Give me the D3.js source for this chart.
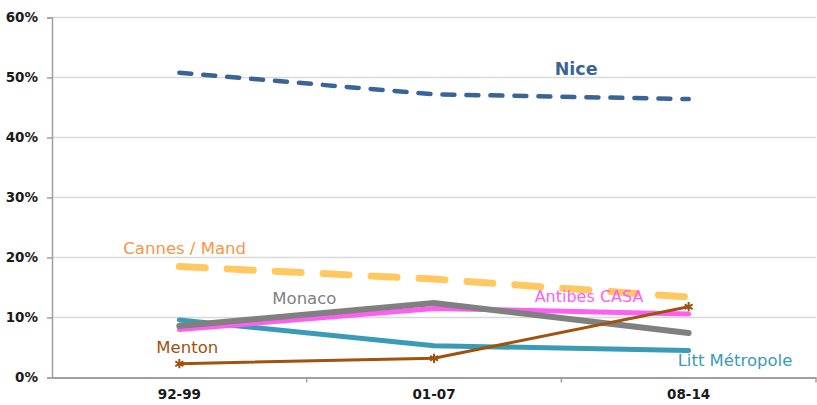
<!DOCTYPE html>
<meta charset="utf-8">
<style>
body { margin: 0; background: #fff; }
.tick text { font-family: "DejaVu Sans", Verdana, sans-serif; font-weight: bold; font-size: 13.5px; fill: #1a1a1a; }
.lbl { font-family: "DejaVu Sans", Verdana, sans-serif; font-size: 16px; }
</style>
<body>
<script src="https://d3js.org/d3.v7.min.js"></script>
<script>
// categories and values (share of total, %)
const periods = ["92-99", "01-07", "08-14"];
const yTicks = [0, 10, 20, 30, 40, 50, 60];

const nice     = [50.8, 47.2, 46.4];
const cannes   = [18.5, 16.4, 13.4];
const littMet  = [9.6, 5.3, 4.5];
const antibes  = [8.0, 11.5, 10.6];
const monaco   = [8.6, 12.4, 7.4];
const menton   = [2.3, 3.2, 11.8];

const width = 817, height = 405,
      margin = {top: 17.5, right: 1, bottom: 27.5, left: 52};

var svg = d3.select("body").append("svg")
    .attr("width", width)
    .attr("height", height);

var x = d3.scaleBand()
    .domain(periods)
    .range([margin.left, width - margin.right]);
var y = d3.scaleLinear()
    .domain([0, 60])
    .range([height - margin.bottom, margin.top]);

// grid lines
svg.append("g")
  .selectAll("line")
  .data(yTicks.slice(1))
  .enter().append("line")
    .attr("x1", margin.left).attr("x2", width - margin.right)
    .attr("y1", d => y(d)).attr("y2", d => y(d))
    .attr("stroke", "#d9d9d9").attr("stroke-width", 1.5);

// y axis
var yAxis = svg.append("g")
    .attr("transform", "translate(" + margin.left + ",0)")
    .call(d3.axisLeft(y).tickValues(yTicks).tickFormat(d => d + "%").tickSize(5).tickPadding(9));
yAxis.selectAll("line, path").attr("stroke", "#a0a0a0").attr("stroke-width", 1.5);

// x axis
var xAxis = svg.append("g")
    .attr("transform", "translate(0," + y(0) + ")")
    .call(d3.axisBottom(x).tickSize(0).tickPadding(12));
xAxis.select("path").attr("stroke", "#a0a0a0").attr("stroke-width", 2);
// category separators
xAxis.selectAll(".sep")
  .data(periods)
  .enter().append("line")
    .attr("class", "sep")
    .attr("x1", d => x(d) + x.bandwidth()).attr("x2", d => x(d) + x.bandwidth())
    .attr("y1", 0).attr("y2", 5)
    .attr("stroke", "#a0a0a0").attr("stroke-width", 1.5);

var line = d3.line()
    .x((d, i) => x(periods[i]) + x.bandwidth() / 2)
    .y(d => y(d));

const series = [
  {name: "Litt Métropole", values: littMet, color: "#3a9bb6", w: 5},
  {name: "Antibes CASA", values: antibes, color: "#ff5ff0", w: 5},
  {name: "Monaco", values: monaco, color: "#808080", w: 6},
  {name: "Menton", values: menton, color: "#a0520f", w: 3},
  {name: "Cannes / Mand", values: cannes, color: "#ffc860", w: 7, dash: "26,22"},
  {name: "Nice", values: nice, color: "#3a6496", w: 4.5, dash: "12,12"}
];

svg.append("g")
  .selectAll("path")
  .data(series)
  .enter().append("path")
    .attr("d", d => line(d.values))
    .attr("fill", "none")
    .attr("stroke", d => d.color)
    .attr("stroke-width", d => d.w)
    .attr("stroke-linecap", "round")
    .attr("stroke-dasharray", d => d.dash || null);

// Menton star markers
svg.append("g")
  .selectAll("path")
  .data(menton)
  .enter().append("path")
    .attr("transform", (d, i) => "translate(" + (x(periods[i]) + x.bandwidth() / 2) + "," + y(d) + ")")
    .attr("d", d3.symbol(d3.symbolAsterisk, 60))
    .attr("fill", "none")
    .attr("stroke", "#a0520f")
    .attr("stroke-width", 2);

// series labels, placed relative to a point of each series
const labels = [
  {text: "Nice", i: 2, v: nice[2], dx: -134, dy: -24, color: "#3a6496", size: 17.5, bold: true},
  {text: "Cannes / Mand", i: 0, v: cannes[0], dx: -56, dy: -13, color: "#f79646", size: 16.5},
  {text: "Monaco", i: 0, v: monaco[0], dx: 93, dy: -22, color: "#808080", size: 16.5},
  {text: "Antibes CASA", i: 2, v: antibes[2], dx: -154, dy: -12, color: "#ff5ff0", size: 16},
  {text: "Menton", i: 0, v: menton[0], dx: -23, dy: -11, color: "#a0520f", size: 16.5},
  {text: "Litt Métropole", i: 2, v: littMet[2], dx: -11, dy: 15, color: "#3a9bb6", size: 16.5}
];

svg.append("g")
  .selectAll("text")
  .data(labels)
  .enter().append("text")
    .attr("class", "lbl")
    .attr("x", d => x(periods[d.i]) + x.bandwidth() / 2 + d.dx)
    .attr("y", d => y(d.v) + d.dy)
    .attr("fill", d => d.color)
    .style("font-size", d => d.size + "px")
    .style("font-weight", d => d.bold ? "bold" : "normal")
    .text(d => d.text);
</script>
</body>
